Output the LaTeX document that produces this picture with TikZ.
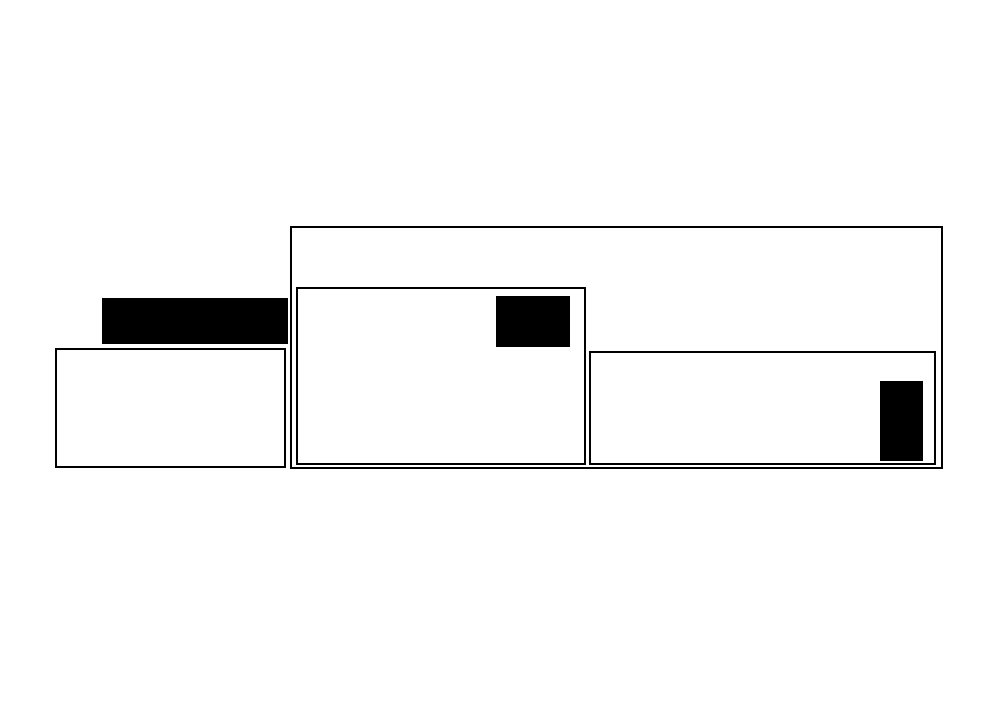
\documentclass[tikz,border=0pt]{standalone}
\usepackage{tikz}
\usetikzlibrary{backgrounds}

\begin{document}
\begin{tikzpicture}[x=0.03cm, y=-0.03cm,
box/.style={draw, line width=1.6pt},
blk/.style={fill=black, draw=black, line width=0.4pt}
]
\useasboundingbox (0,0) rectangle (1000,701);

\draw[box] (56,349) rectangle (285,467);
\draw[blk] (102,298) rectangle (287,343);

\draw[box] (291,227) rectangle (942,468);
\draw[box] (297,288) rectangle (585,464);
\draw[blk] (496,296) rectangle (569,346);

\draw[box] (590,352) rectangle (935,464);
\draw[blk] (880,381) rectangle (922,460);

\end{tikzpicture}
\end{document}
